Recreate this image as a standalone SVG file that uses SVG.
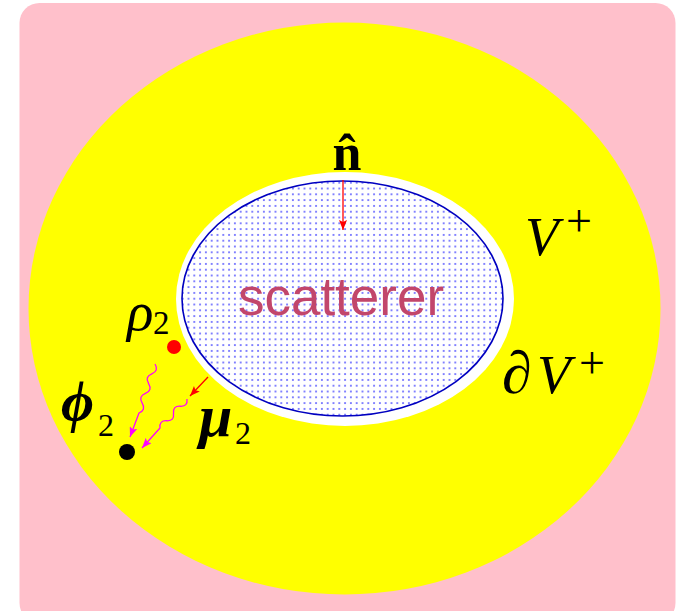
<svg xmlns="http://www.w3.org/2000/svg" width="685" height="611" viewBox="0 0 685 611">
<style>
.m{font-family:"Liberation Serif","DejaVu Serif",serif;fill:#000}
.it{font-style:italic}
.bd{font-weight:bold}
.wave{fill:none;stroke:#ff00ff;stroke-width:1.3}
.red{fill:none;stroke:#ff0000;stroke-width:1.3}
</style>
<defs>
<pattern id="dots" width="5.8" height="5.8" patternUnits="userSpaceOnUse">
<rect width="5.8" height="5.8" fill="#ffffff"/>
<circle cx="2.9" cy="2.9" r="1" fill="#5a5aff"/>
</pattern>
<marker id="ahM" markerWidth="11" markerHeight="8" refX="10" refY="4" orient="auto" markerUnits="userSpaceOnUse">
<path d="M0,0 L10,4 L0,8 L2,4 z" fill="#ff00ff"/>
</marker>
<marker id="ahR" markerWidth="11" markerHeight="8" refX="10" refY="4" orient="auto" markerUnits="userSpaceOnUse">
<path d="M0,0 L10,4 L0,8 L2,4 z" fill="#ff0000"/>
</marker>
</defs>
<g id="background">
<rect x="19.5" y="3" width="656" height="620" rx="20" ry="20" fill="#ffc0cb"/>
</g>
<g id="region-V">
<ellipse cx="344.5" cy="308.5" rx="316" ry="286" fill="#ffff00"/>
<text class="m it" x="525" y="255" font-size="55">V</text>
<text class="m" x="566" y="236" font-size="46">+</text>
</g>
<g id="boundary">
<ellipse cx="345" cy="299" rx="169" ry="127" fill="#ffffff"/>
<text class="m it" y="393" font-size="55"><tspan x="502" font-size="60">∂</tspan><tspan x="537">V</tspan></text>
<text class="m" x="579" y="378" font-size="46">+</text>
</g>
<g id="scatterer">
<ellipse cx="342.5" cy="298.5" rx="160.5" ry="117.5" fill="url(#dots)" stroke="#0000c0" stroke-width="1.6"/>
<text x="341" y="315" font-family="Liberation Sans, Arial, sans-serif" font-size="53" fill="#c2466b" text-anchor="middle">scatterer</text>
</g>
<g id="normal">
<text class="m bd" x="347" y="170" font-size="52" text-anchor="middle">n̂</text>
</g>
<g id="rho">
<text class="m it" x="127" y="330" font-size="55">ρ</text>
<text class="m" x="153" y="334" font-size="33">2</text>
<circle cx="174" cy="347" r="7" fill="#ff0000"/>
</g>
<g id="phi">
<text class="m it bd" x="61" y="421" font-size="57">ϕ</text>
<text class="m" x="98" y="436" font-size="32">2</text>
<circle cx="127" cy="452" r="8" fill="#000000"/>
</g>
<g id="mu">
<text class="m it bd" x="199" y="436" font-size="60">μ</text>
<text class="m" x="235" y="444" font-size="32">2</text>
</g>
<g id="connectors">
<line class="red" x1="343" y1="180" x2="343" y2="230" marker-end="url(#ahR)"/>
<line class="red" x1="208" y1="377" x2="190" y2="396" marker-end="url(#ahR)"/>
<path class="wave" d="M155,364 q4.1,6.8 -3.2,9.8 t-3.2,9.8 t-3.2,9.8 t-3.2,9.8 t-3.2,9.8 L130,437" marker-end="url(#ahM)"/>
<path class="wave" d="M187,399 q1,7.7 -6.75,7.25 t-6.75,7.25 t-6.75,7.25 t-6.75,7.25 L142,448" marker-end="url(#ahM)"/>
</g>
</svg>
